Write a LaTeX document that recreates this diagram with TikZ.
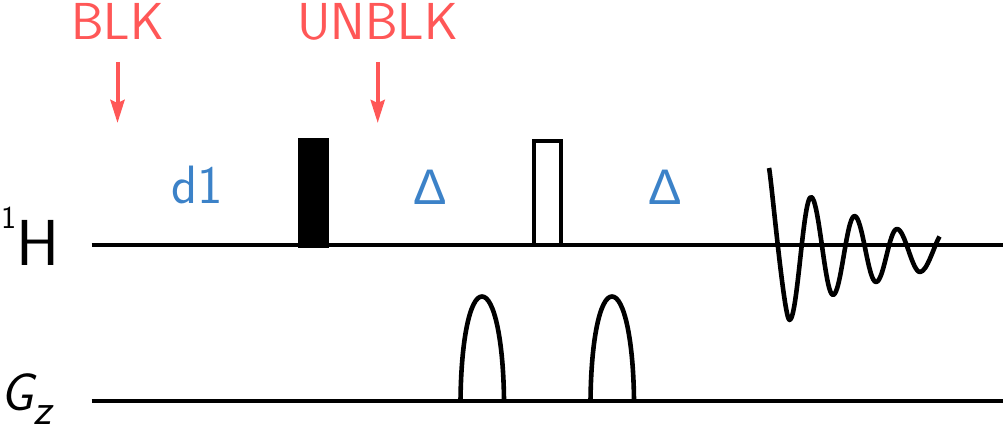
\documentclass[tikz,border=0pt]{standalone}
\usepackage{fontspec}
\newfontfamily\deltafont{Liberation Sans}
\usetikzlibrary{arrows.meta}
\definecolor{blkred}{RGB}{255,87,87}
\definecolor{lblblue}{RGB}{60,130,200}
\tikzset{
  seqline/.style={line width=4.8pt},
  redlabel/.style={text=blkred,inner sep=0pt,anchor=base,font=\sffamily\fontsize{52}{52}\selectfont},
  bluelabel/.style={text=lblblue,inner sep=0pt,anchor=base,font=\sffamily\fontsize{54}{54}\selectfont},
  deltalabel/.style={text=lblblue,inner sep=0pt,anchor=base,font=\deltafont\fontsize{50}{50}\selectfont},
  redarrow/.style={draw=blkred,line width=4pt,-{Stealth[length=23pt,width=14pt,inset=3pt]}},
  gradpulse/.style={line width=4.6pt},
  fidline/.style={line width=4.6pt,line join=round}
}
\begin{document}
\begin{tikzpicture}[x=1pt,y=-1pt]
\useasboundingbox (0,0) rectangle (1003,433);
% channel labels
\node[inner sep=0pt,anchor=base west,font=\sffamily] (hlab) at (1,265)
  {{\fontsize{32}{32}\selectfont\raisebox{37pt}{1}}{\fontsize{65}{65}\selectfont H}};
\node[inner sep=0pt,anchor=base west,font=\sffamily\itshape] (glab) at (0,410)
  {{\fontsize{53}{53}\selectfont G}{\fontsize{44}{44}\selectfont\raisebox{-14pt}{z}}};
% channel lines
\coordinate (hL) at (91.7,245);
\coordinate (hR) at (1003,245);
\coordinate (gL) at (91.7,401);
\coordinate (gR) at (1003,401);
\draw[seqline] (hL) -- (hR);
\draw[seqline] (gL) -- (gR);
% 90 degree pulse
\fill (297.5,137.5) rectangle (328.5,247.5);
% 180 degree pulse
\draw[seqline] (534,245) -- (534,141) -- (561,141) -- (561,245);
% gradients
\draw[gradpulse] (460.5,401) .. controls (461,340) and (470,296.5) .. (482,296.5)
  .. controls (494,296.5) and (503.5,340) .. (504,401);
\draw[gradpulse] (590.5,401) .. controls (591,340) and (600,296.5) .. (612,296.5)
  .. controls (624,296.5) and (633.5,340) .. (634,401);
% FID
\draw[fidline] (769,168) .. controls (771,175) and (784,320) .. (789.5,320)
  .. controls (797.5,320) and (803,197) .. (811,197)
  .. controls (819,197) and (825,295) .. (833,295)
  .. controls (841,295) and (846.5,216) .. (854.5,216)
  .. controls (862.5,216) and (868,282) .. (876,282)
  .. controls (884,282) and (889,229) .. (897,229)
  .. controls (905,229) and (912,272) .. (920,272)
  .. controls (927,272) and (934,246) .. (939.5,236.5);
% labels
\node[redlabel] (blk) at (117.5,39.5) {BLK};
\node[redlabel] (unblk) at (377.5,39.5) {UNBLK};
\coordinate (blkS) at (117.5,62);
\coordinate (blkT) at (117.5,123);
\coordinate (unblkS) at (377.7,62);
\coordinate (unblkT) at (377.7,123);
\draw[redarrow] (blkS) -- (blkT);
\draw[redarrow] (unblkS) -- (unblkT);
\node[bluelabel] (d1) at (197.5,203.5) {d1};
\node[deltalabel] (delta1) at (430,204) {Δ};
\node[deltalabel] (delta2) at (665,204) {Δ};
\end{tikzpicture}
\end{document}
